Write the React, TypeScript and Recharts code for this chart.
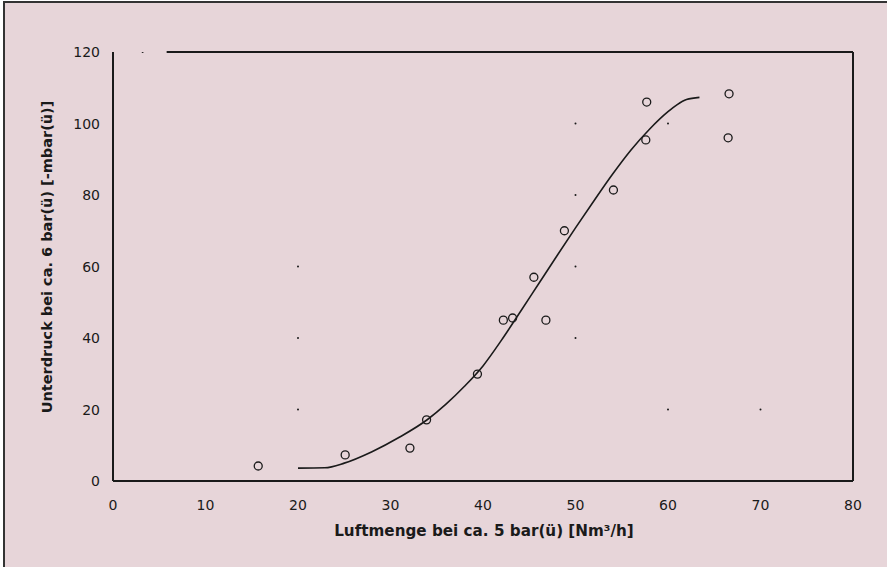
import React from "react";
import {
  ComposedChart,
  XAxis,
  YAxis,
  Line,
  Scatter,
  ReferenceLine,
} from "recharts";

const xTicks = [0, 10, 20, 30, 40, 50, 60, 70, 80];
const yTicks = [0, 20, 40, 60, 80, 100, 120];

const measured = [
  { x: 15.7, y: 4.2 },
  { x: 25.1, y: 7.3 },
  { x: 32.1, y: 9.2 },
  { x: 33.9, y: 17.1 },
  { x: 39.4, y: 29.9 },
  { x: 42.2, y: 45.0 },
  { x: 43.2, y: 45.6 },
  { x: 45.5, y: 57.0 },
  { x: 46.8, y: 45.0 },
  { x: 48.8, y: 70.0 },
  { x: 54.1, y: 81.4 },
  { x: 57.6, y: 95.4 },
  { x: 57.7, y: 106.0 },
  { x: 66.5, y: 96.0 },
  { x: 66.6, y: 108.3 },
];

const fitCurve = [
  { x: 20, y: 3.6 },
  { x: 22.9, y: 3.7 },
  { x: 25, y: 5.0 },
  { x: 28, y: 8.2 },
  { x: 31, y: 12.3 },
  { x: 34, y: 17.2 },
  { x: 36, y: 21.5 },
  { x: 38, y: 26.5 },
  { x: 40, y: 32.2 },
  { x: 42, y: 39.4 },
  { x: 44, y: 47.2 },
  { x: 46, y: 55.1 },
  { x: 48, y: 63.0 },
  { x: 50, y: 70.8 },
  { x: 52, y: 78.4 },
  { x: 54, y: 85.8 },
  { x: 56, y: 92.6 },
  { x: 58, y: 98.4 },
  { x: 60, y: 103.3 },
  { x: 61, y: 105.3 },
  { x: 62, y: 106.7 },
  { x: 63.4, y: 107.3 },
];

const strayDots = [
  { x: 3.2, y: 120 },
  { x: 20, y: 60 },
  { x: 20, y: 40 },
  { x: 20, y: 20 },
  { x: 50, y: 100 },
  { x: 50, y: 80 },
  { x: 50, y: 60 },
  { x: 50, y: 40 },
  { x: 60, y: 100 },
  { x: 60, y: 20 },
  { x: 70, y: 20 },
];

const xTitle = "Luftmenge bei ca. 5 bar(ü) [Nm³/h]";
const yTitle = "Unterdruck bei ca. 6 bar(ü) [-mbar(ü)]";

const FONT = "'DejaVu Sans', 'Liberation Sans', Arial, sans-serif";
const INK = "#1a1a1a";

const XTick = (props: any) => {
  const { x, payload } = props;
  return (
    <text
      x={x}
      y={505}
      textAnchor="middle"
      dominantBaseline="central"
      fontFamily={FONT}
      fontSize={14}
      fill={INK}
    >
      {payload.value}
    </text>
  );
};

const YTick = (props: any) => {
  const { y, payload } = props;
  return (
    <text
      x={100}
      y={y}
      textAnchor="end"
      dominantBaseline="central"
      fontFamily={FONT}
      fontSize={14}
      fill={INK}
    >
      {payload.value}
    </text>
  );
};

const Ring = (props: any) => (
  <circle
    cx={props.cx}
    cy={props.cy}
    r={4}
    fill="none"
    stroke={INK}
    strokeWidth={1.3}
  />
);

const Dot = (props: any) => (
  <circle cx={props.cx} cy={props.cy} r={1} fill={INK} />
);

export default function App() {
  return (
    <div
      style={{
        position: "absolute",
        left: 0,
        top: 0,
        width: 887,
        height: 567,
        background: "#ffffff",
      }}
    >
      <div
        style={{
          position: "absolute",
          left: 3,
          top: 1,
          width: 884,
          height: 566,
          background: "#E7D5D9",
          borderLeft: "2px solid #333",
          borderTop: "2px solid #333",
          boxSizing: "border-box",
        }}
      />
      <div style={{ position: "absolute", left: 0, top: 0 }}>
        <ComposedChart
          width={887}
          height={567}
          margin={{ top: 52, right: 34, left: 0, bottom: 0 }}
        >
          <XAxis
            type="number"
            dataKey="x"
            domain={[0, 80]}
            ticks={xTicks}
            allowDataOverflow
            tickLine={false}
            tickSize={0}
            tickMargin={0}
            height={86}
            axisLine={{ stroke: INK, strokeWidth: 2 }}
            tick={<XTick />}
            label={{
              content: (p: any) => (
                <text
                  x={484}
                  y={531}
                  textAnchor="middle"
                  dominantBaseline="central"
                  fontFamily={FONT}
                  fontSize={15.2}
                  fontWeight="bold"
                  fill={INK}
                >
                  {xTitle}
                </text>
              ),
            }}
          />
          <YAxis
            type="number"
            dataKey="y"
            domain={[0, 120]}
            ticks={yTicks}
            allowDataOverflow
            tickLine={false}
            tickSize={0}
            tickMargin={0}
            width={113}
            axisLine={{ stroke: INK, strokeWidth: 2 }}
            tick={<YTick />}
            label={{
              content: (p: any) => (
                <text
                  x={47}
                  y={257}
                  transform="rotate(-90 47 257)"
                  textAnchor="middle"
                  dominantBaseline="central"
                  fontFamily={FONT}
                  fontSize={14.5}
                  fontWeight="bold"
                  fill={INK}
                >
                  {yTitle}
                </text>
              ),
            }}
          />
          <ReferenceLine
            segment={[
              { x: 5.8, y: 120 },
              { x: 80, y: 120 },
            ]}
            stroke={INK}
            strokeWidth={2}
            ifOverflow="visible"
          />
          <ReferenceLine
            segment={[
              { x: 80, y: 0 },
              { x: 80, y: 120 },
            ]}
            stroke={INK}
            strokeWidth={2}
            ifOverflow="visible"
          />
          <Scatter
            data={strayDots}
            dataKey="y"
            shape={<Dot />}
            isAnimationActive={false}
          />
          <Line
            data={fitCurve}
            dataKey="y"
            type="monotone"
            stroke={INK}
            strokeWidth={1.6}
            dot={false}
            activeDot={false}
            isAnimationActive={false}
          />
          <Scatter
            data={measured}
            dataKey="y"
            shape={<Ring />}
            isAnimationActive={false}
          />
        </ComposedChart>
      </div>
    </div>
  );
}
